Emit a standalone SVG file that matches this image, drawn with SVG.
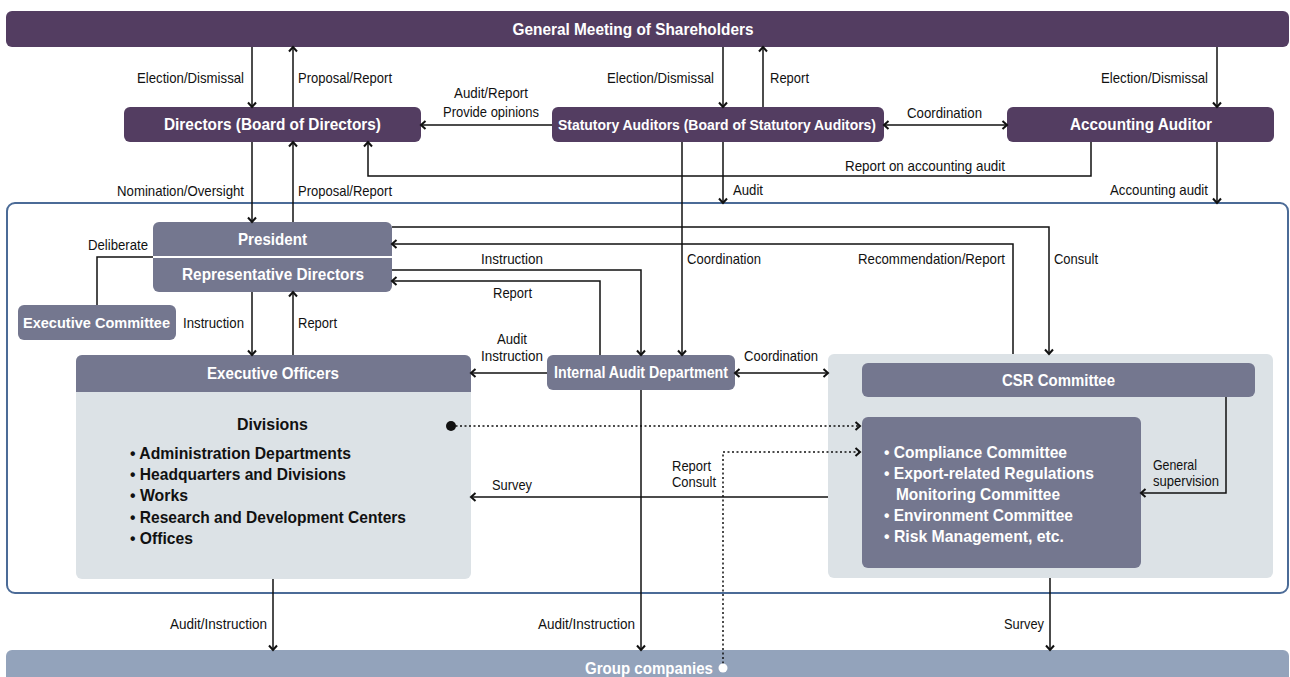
<svg xmlns="http://www.w3.org/2000/svg" width="1290" height="677" viewBox="0 0 1290 677">
<defs>
<style>
text{font-family:"Liberation Sans","Arial",sans-serif;}
.n{font-weight:bold;font-size:16.5px;fill:#fff;text-anchor:middle;}
.l{font-size:14.5px;fill:#111;}
.b{font-weight:bold;font-size:16.5px;}
.e{text-anchor:end;}
.m{text-anchor:middle;}
.purple{fill:#533d61;}
.slate{fill:#74778f;}
.light{fill:#dce2e6;}
.c{fill:none;stroke:#111;stroke-width:1.5;}
.a{marker-end:url(#ah);}
.d{marker-start:url(#ahs);marker-end:url(#ah);}
.dot{stroke-dasharray:2 2.5;}
</style>
<marker id="ah" markerUnits="userSpaceOnUse" markerWidth="12" markerHeight="12" viewBox="-1 -1 12 12" refX="5" refY="4.5" orient="auto">
<path d="M0.5,0.5 L5,4.5 L0.5,8.5" fill="none" stroke="#111" stroke-width="2"/>
</marker>
<marker id="ahs" markerUnits="userSpaceOnUse" markerWidth="12" markerHeight="12" viewBox="-1 -1 12 12" refX="5" refY="4.5" orient="auto-start-reverse">
<path d="M0.5,0.5 L5,4.5 L0.5,8.5" fill="none" stroke="#111" stroke-width="2"/>
</marker>
</defs>
<rect width="1290" height="677" fill="#fff"/>

<g id="outer-frame">
<rect x="7" y="203" width="1281" height="390" rx="8" fill="#fff" stroke="#4b6b97" stroke-width="2"/>
</g>

<g id="gms">
<rect class="purple" x="6" y="11" width="1283" height="36" rx="6"/>
<text class="n" x="633" y="35" textLength="241" lengthAdjust="spacingAndGlyphs">General Meeting of Shareholders</text>
</g>
<g id="directors">
<rect class="purple" x="124" y="107" width="297" height="35" rx="6"/>
<text class="n" x="272.5" y="130" textLength="217" lengthAdjust="spacingAndGlyphs">Directors (Board of Directors)</text>
</g>
<g id="statutory-auditors">
<rect class="purple" x="552" y="107" width="332" height="35" rx="6"/>
<text class="n" x="717" y="130" style="font-size:15px" textLength="318" lengthAdjust="spacingAndGlyphs">Statutory Auditors (Board of Statutory Auditors)</text>
</g>
<g id="accounting-auditor">
<rect class="purple" x="1007" y="107" width="267" height="35" rx="6"/>
<text class="n" x="1141" y="130" textLength="142" lengthAdjust="spacingAndGlyphs">Accounting Auditor</text>
</g>
<g id="president">
<rect class="slate" x="153" y="222" width="239" height="70" rx="6"/>
<line x1="153" y1="257" x2="392" y2="257" stroke="#fff" stroke-width="2"/>
<text class="n" x="272.5" y="245" textLength="69" lengthAdjust="spacingAndGlyphs">President</text>
<text class="n" x="273" y="280" textLength="182" lengthAdjust="spacingAndGlyphs">Representative Directors</text>
</g>
<g id="executive-committee">
<rect class="slate" x="18" y="305" width="158" height="35" rx="6"/>
<text class="n" x="96.5" y="328" style="font-size:15px" textLength="147" lengthAdjust="spacingAndGlyphs">Executive Committee</text>
</g>
<g id="executive-officers">
<rect class="light" x="76" y="355" width="395" height="224" rx="6"/>
<path class="slate" d="M82,355 H465 A6,6 0 0 1 471,361 V392 H76 V361 A6,6 0 0 1 82,355 Z"/>
<text class="n" x="273" y="379" textLength="132" lengthAdjust="spacingAndGlyphs">Executive Officers</text>
<text class="b m" x="272.5" y="430" fill="#111" textLength="71" lengthAdjust="spacingAndGlyphs">Divisions</text>
<text class="b" x="130" y="459" fill="#111" textLength="221" lengthAdjust="spacingAndGlyphs">• Administration Departments</text>
<text class="b" x="130" y="480" fill="#111" textLength="216" lengthAdjust="spacingAndGlyphs">• Headquarters and Divisions</text>
<text class="b" x="130" y="501" fill="#111" textLength="58" lengthAdjust="spacingAndGlyphs">• Works</text>
<text class="b" x="130" y="523" fill="#111" textLength="276" lengthAdjust="spacingAndGlyphs">• Research and Development Centers</text>
<text class="b" x="130" y="544" fill="#111" textLength="63" lengthAdjust="spacingAndGlyphs">• Offices</text>
</g>
<g id="internal-audit">
<rect class="slate" x="547" y="355" width="188" height="35" rx="6"/>
<text class="n" x="641" y="378" textLength="174" lengthAdjust="spacingAndGlyphs">Internal Audit Department</text>
</g>
<g id="csr">
<rect class="light" x="828" y="354" width="445" height="224" rx="6"/>
<rect class="slate" x="862" y="363" width="393" height="34" rx="6"/>
<text class="n" x="1058.5" y="386" textLength="113" lengthAdjust="spacingAndGlyphs">CSR Committee</text>
</g>
<g id="csr-committees">
<rect class="slate" x="862" y="417" width="279" height="151" rx="6"/>
<text class="b" x="884" y="458" fill="#fff" textLength="183" lengthAdjust="spacingAndGlyphs">• Compliance Committee</text>
<text class="b" x="884" y="479" fill="#fff" textLength="210" lengthAdjust="spacingAndGlyphs">• Export-related Regulations</text>
<text class="b" x="896" y="500" fill="#fff" textLength="164" lengthAdjust="spacingAndGlyphs">Monitoring Committee</text>
<text class="b" x="884" y="521" fill="#fff" textLength="189" lengthAdjust="spacingAndGlyphs">• Environment Committee</text>
<text class="b" x="884" y="542" fill="#fff" textLength="180" lengthAdjust="spacingAndGlyphs">• Risk Management, etc.</text>
</g>
<g id="group-companies">
<rect x="6" y="650" width="1283" height="40" rx="6" fill="#93a3bb"/>
<text class="n" x="649" y="674" textLength="128" lengthAdjust="spacingAndGlyphs">Group companies</text>
</g>

<g id="connectors">
<path class="c a" d="M252,47 V107"/>
<path class="c a" d="M293,107 V47"/>
<path class="c a" d="M723,47 V107"/>
<path class="c a" d="M763,107 V47"/>
<path class="c a" d="M1217,47 V107"/>
<path class="c a" d="M552,125 H421"/>
<path class="c d" d="M884,125 H1007"/>
<path class="c a" d="M1091,142 V176 H368 V142"/>
<path class="c a" d="M252,142 V222"/>
<path class="c a" d="M293,222 V142"/>
<path class="c a" d="M723,142 V203"/>
<path class="c a" d="M1217,142 V203"/>
<path class="c a" d="M682,142 V355"/>
<path class="c a" d="M392,227 H1049 V354"/>
<path class="c a" d="M1013,354 V244 H392"/>
<path class="c a" d="M392,270 H641 V355"/>
<path class="c a" d="M600,355 V281 H392"/>
<path class="c" d="M153,257 H97 V305"/>
<path class="c a" d="M252,292 V355"/>
<path class="c a" d="M293,355 V292"/>
<path class="c a" d="M547,373 H471"/>
<path class="c d" d="M735,373 H828"/>
<path class="c a" d="M641,390 V650"/>
<path class="c a" d="M828,497 H471"/>
<path class="c a dot" d="M451,426 H860"/>
<circle cx="451" cy="426" r="5" fill="#111"/>
<path class="c a dot" d="M723,668 V452 H860"/>
<circle cx="723" cy="668" r="4.5" fill="#fff"/>
<path class="c a" d="M1226,397 V493 H1141"/>
<path class="c a" d="M273,579 V650"/>
<path class="c a" d="M1050,578 V650"/>

<text class="l e" x="244" y="83" textLength="107" lengthAdjust="spacingAndGlyphs">Election/Dismissal</text>
<text class="l" x="298" y="83" textLength="94" lengthAdjust="spacingAndGlyphs">Proposal/Report</text>
<text class="l m" x="491" y="98" textLength="74" lengthAdjust="spacingAndGlyphs">Audit/Report</text>
<text class="l m" x="491" y="117" textLength="96" lengthAdjust="spacingAndGlyphs">Provide opinions</text>
<text class="l e" x="714" y="83" textLength="107" lengthAdjust="spacingAndGlyphs">Election/Dismissal</text>
<text class="l" x="770" y="83" textLength="39" lengthAdjust="spacingAndGlyphs">Report</text>
<text class="l e" x="1208" y="83" textLength="107" lengthAdjust="spacingAndGlyphs">Election/Dismissal</text>
<text class="l m" x="944.5" y="118" textLength="75" lengthAdjust="spacingAndGlyphs">Coordination</text>
<text class="l e" x="1005" y="171" textLength="160" lengthAdjust="spacingAndGlyphs">Report on accounting audit</text>
<text class="l e" x="244" y="196" textLength="127" lengthAdjust="spacingAndGlyphs">Nomination/Oversight</text>
<text class="l" x="298" y="196" textLength="94" lengthAdjust="spacingAndGlyphs">Proposal/Report</text>
<text class="l" x="733" y="195" textLength="30" lengthAdjust="spacingAndGlyphs">Audit</text>
<text class="l e" x="1208" y="195" textLength="98" lengthAdjust="spacingAndGlyphs">Accounting audit</text>
<text class="l e" x="148" y="250" textLength="60" lengthAdjust="spacingAndGlyphs">Deliberate</text>
<text class="l m" x="512" y="264" textLength="62" lengthAdjust="spacingAndGlyphs">Instruction</text>
<text class="l m" x="512.5" y="298" textLength="39" lengthAdjust="spacingAndGlyphs">Report</text>
<text class="l" x="687" y="264" textLength="74" lengthAdjust="spacingAndGlyphs">Coordination</text>
<text class="l e" x="1005" y="264" textLength="147" lengthAdjust="spacingAndGlyphs">Recommendation/Report</text>
<text class="l" x="1054" y="264" textLength="44" lengthAdjust="spacingAndGlyphs">Consult</text>
<text class="l e" x="244" y="328" textLength="61" lengthAdjust="spacingAndGlyphs">Instruction</text>
<text class="l" x="298" y="328" textLength="39" lengthAdjust="spacingAndGlyphs">Report</text>
<text class="l m" x="512" y="344" textLength="30" lengthAdjust="spacingAndGlyphs">Audit</text>
<text class="l m" x="512" y="361" textLength="62" lengthAdjust="spacingAndGlyphs">Instruction</text>
<text class="l m" x="781" y="361" textLength="74" lengthAdjust="spacingAndGlyphs">Coordination</text>
<text class="l" x="492" y="490" textLength="40" lengthAdjust="spacingAndGlyphs">Survey</text>
<text class="l" x="672" y="471" textLength="39" lengthAdjust="spacingAndGlyphs">Report</text>
<text class="l" x="672" y="487" textLength="44" lengthAdjust="spacingAndGlyphs">Consult</text>
<text class="l" x="1153" y="470" textLength="44" lengthAdjust="spacingAndGlyphs">General</text>
<text class="l" x="1153" y="486" textLength="66" lengthAdjust="spacingAndGlyphs">supervision</text>
<text class="l e" x="267" y="629" textLength="97" lengthAdjust="spacingAndGlyphs">Audit/Instruction</text>
<text class="l e" x="635" y="629" textLength="97" lengthAdjust="spacingAndGlyphs">Audit/Instruction</text>
<text class="l e" x="1044" y="629" textLength="40" lengthAdjust="spacingAndGlyphs">Survey</text>
</g>
</svg>
